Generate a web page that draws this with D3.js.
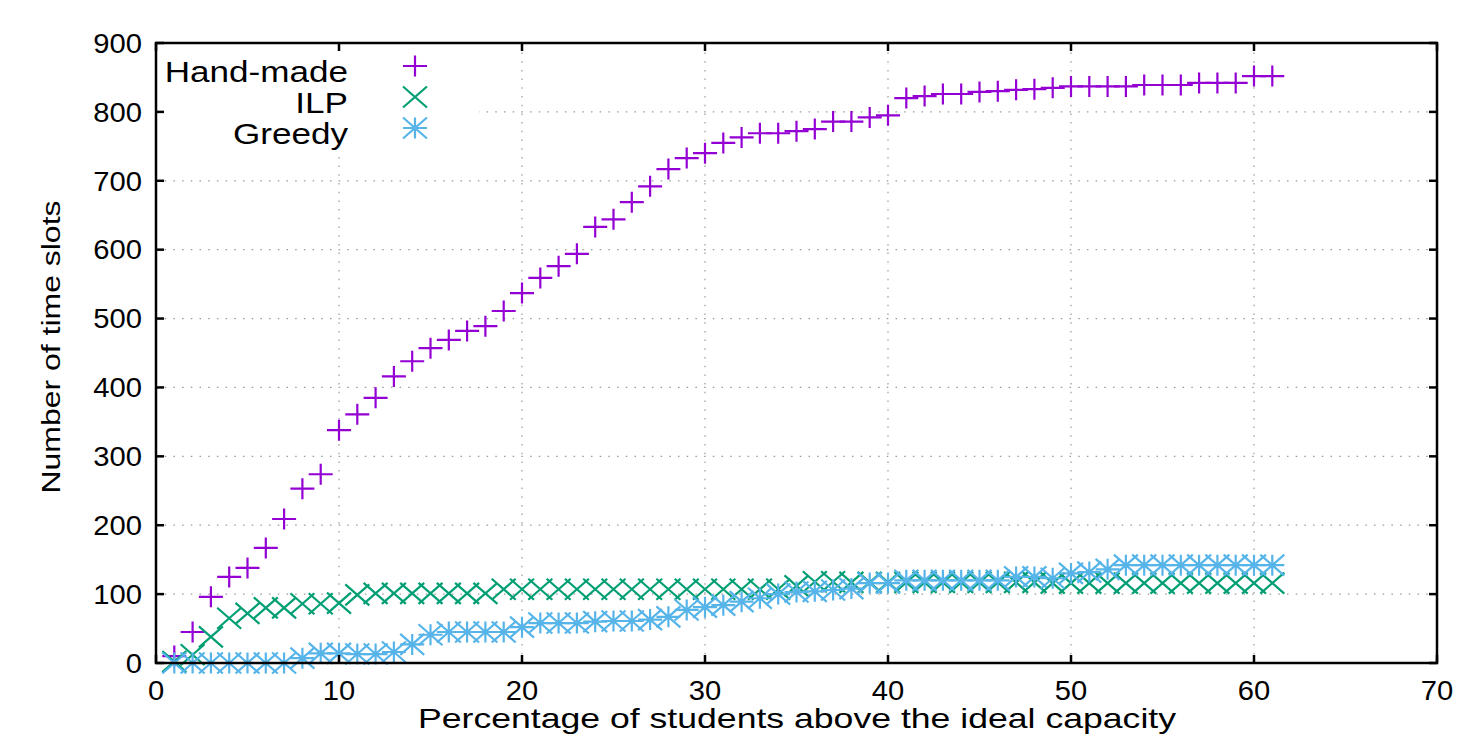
<!DOCTYPE html>
<meta charset="utf-8">
<style>
body{margin:0;background:#fff;}
svg text{font-family:"Liberation Sans",Arial,sans-serif;fill:#000;}
</style>
<svg id="chart" width="1483" height="738"></svg>
<script src="https://d3js.org/d3.v7.min.js"></script>
<script>
// percentage of students above the ideal capacity (x of every point)
const percent = [1,2,3,4,5,6,7,8,9,10,11,12,13,14,15,16,17,18,19,20,
  21,22,23,24,25,26,27,28,29,30,31,32,33,34,35,36,37,38,39,40,
  41,42,43,44,45,46,47,48,49,50,51,52,53,54,55,56,57,58,59,60,61]

const handMade = [10,45,96,125,138,167,209,253,274,338,361,385,416,438,457,469,482,489,511,537,
  559,576,594,633,644,669,692,717,733,740,755,763,769,769,772,775,786,786,792,795,
  820,823,826,826,829,830,832,833,835,837,837,837,837,839,839,839,842,842,842,852,852]

const ilp = [2,12,38,65,72,80,80,86,86,87,99,101,101,101,101,101,101,101,107,107,
  107,107,107,107,107,107,107,107,107,107,107,107,107,107,112,118,118,117,117,117,
  117,117,117,117,117,117,117,117,116,116,116,116,116,116,116,116,116,116,116,116,116]

const greedy = [0,0,0,0,0,0,0,7,14,14,13,13,16,27,41,45,45,45,45,52,
  58,58,58,60,61,61,63,67,77,81,84,89,94,100,103,104,106,108,116,116,
  120,120,120,120,120,120,125,125,123,130,132,136,142,142,142,142,142,142,142,142,142]

const xTicks = [0,10,20,30,40,50,60,70]
const yTicks = [0,100,200,300,400,500,600,700,800,900]

const series = [
  {name: 'Hand-made', values: handMade, color: '#9400d3', mark: 'plus'},
  {name: 'ILP', values: ilp, color: '#009e73', mark: 'cross'},
  {name: 'Greedy', values: greedy, color: '#56b4e9', mark: 'star'}
]

const svg = d3.select('#chart')
const x = d3.scaleLinear().domain([0, 70]).range([156, 1437])
const y = d3.scaleLinear().domain([0, 900]).range([663, 43])

// marker shapes, like gnuplot point types 1, 2 and 3
const PW = 12, PH = 10.5
const marks = {
  plus: `M${-PW},0H${PW}M0,${-PH}V${PH}`,
  cross: `M${-PW},${-PH}L${PW},${PH}M${-PW},${PH}L${PW},${-PH}`,
  star: `M${-PW},0H${PW}M0,${-PH}V${PH}M${-PW},${-PH}L${PW},${PH}M${-PW},${PH}L${PW},${-PH}`
}

// dotted grid
const grid = svg.append('g').attr('stroke', '#999').attr('stroke-width', 1.2)
  .attr('stroke-dasharray', '1.5,7.2')
grid.selectAll('line.gy').data(yTicks.slice(1, -1)).join('line')
  .attr('x1', x(0)).attr('x2', x(70)).attr('y1', d => y(d)).attr('y2', d => y(d))
grid.selectAll('line.gx').data(xTicks.slice(1, -1)).join('line')
  .attr('x1', d => x(d)).attr('x2', d => x(d)).attr('y1', y(0)).attr('y2', y(900))

// key area covers the grid
svg.append('rect').attr('x', x(0) + 1).attr('y', y(900) + 1)
  .attr('width', 478 - x(0)).attr('height', 153 - y(900)).attr('fill', '#fff')

// points
series.forEach(s => {
  svg.append('g').attr('stroke', s.color).attr('stroke-width', 2.2).attr('fill', 'none')
    .selectAll('path').data(s.values).join('path')
    .attr('transform', (d, i) => `translate(${x(percent[i])},${y(d)})`)
    .attr('d', marks[s.mark])
})

// border and inward ticks on all sides
const axes = svg.append('g').attr('stroke', '#000').attr('stroke-width', 2.5)
axes.append('rect').attr('x', x(0)).attr('y', y(900))
  .attr('width', x(70) - x(0)).attr('height', y(0) - y(900)).attr('fill', 'none')
const TL = 8
axes.selectAll('line.yt').data(yTicks).join('line')
  .attr('x1', x(0)).attr('x2', x(0) + TL).attr('y1', d => y(d)).attr('y2', d => y(d))
axes.selectAll('line.yt2').data(yTicks).join('line')
  .attr('x1', x(70)).attr('x2', x(70) - TL).attr('y1', d => y(d)).attr('y2', d => y(d))
axes.selectAll('line.xt').data(xTicks).join('line')
  .attr('x1', d => x(d)).attr('x2', d => x(d)).attr('y1', y(0)).attr('y2', y(0) - TL)
axes.selectAll('line.xt2').data(xTicks).join('line')
  .attr('x1', d => x(d)).attr('x2', d => x(d)).attr('y1', y(900)).attr('y2', y(900) + TL)

// tick labels (the original is a little stretched sideways)
svg.append('g').selectAll('text').data(yTicks).join('text')
  .attr('transform', d => `translate(142,${y(d)}) scale(1.08,1)`).attr('dy', '0.36em')
  .attr('text-anchor', 'end').attr('font-size', 27)
  .text(d => d)
svg.append('g').selectAll('text').data(xTicks).join('text')
  .attr('transform', d => `translate(${x(d)},700) scale(1.08,1)`)
  .attr('text-anchor', 'middle').attr('font-size', 27)
  .text(d => d)

// axis titles
svg.append('text').attr('x', 797).attr('y', 728).attr('text-anchor', 'middle')
  .attr('font-size', 28).attr('textLength', 758).attr('lengthAdjust', 'spacingAndGlyphs')
  .text('Percentage of students above the ideal capacity')
svg.append('text').attr('transform', 'translate(60,347) rotate(-90)')
  .attr('text-anchor', 'middle').attr('font-size', 25)
  .attr('textLength', 293).attr('lengthAdjust', 'spacingAndGlyphs')
  .text('Number of time slots')

// key
const key = svg.append('g')
series.forEach((s, i) => {
  const by = 82 + i * 31
  key.append('text').attr('transform', `translate(348,${by}) scale(1.17,1)`)
    .attr('text-anchor', 'end').attr('font-size', 30).text(s.name)
  key.append('path').attr('transform', `translate(415,${by - 16})`)
    .attr('d', marks[s.mark]).attr('stroke', s.color).attr('stroke-width', 2.2).attr('fill', 'none')
})
</script>
